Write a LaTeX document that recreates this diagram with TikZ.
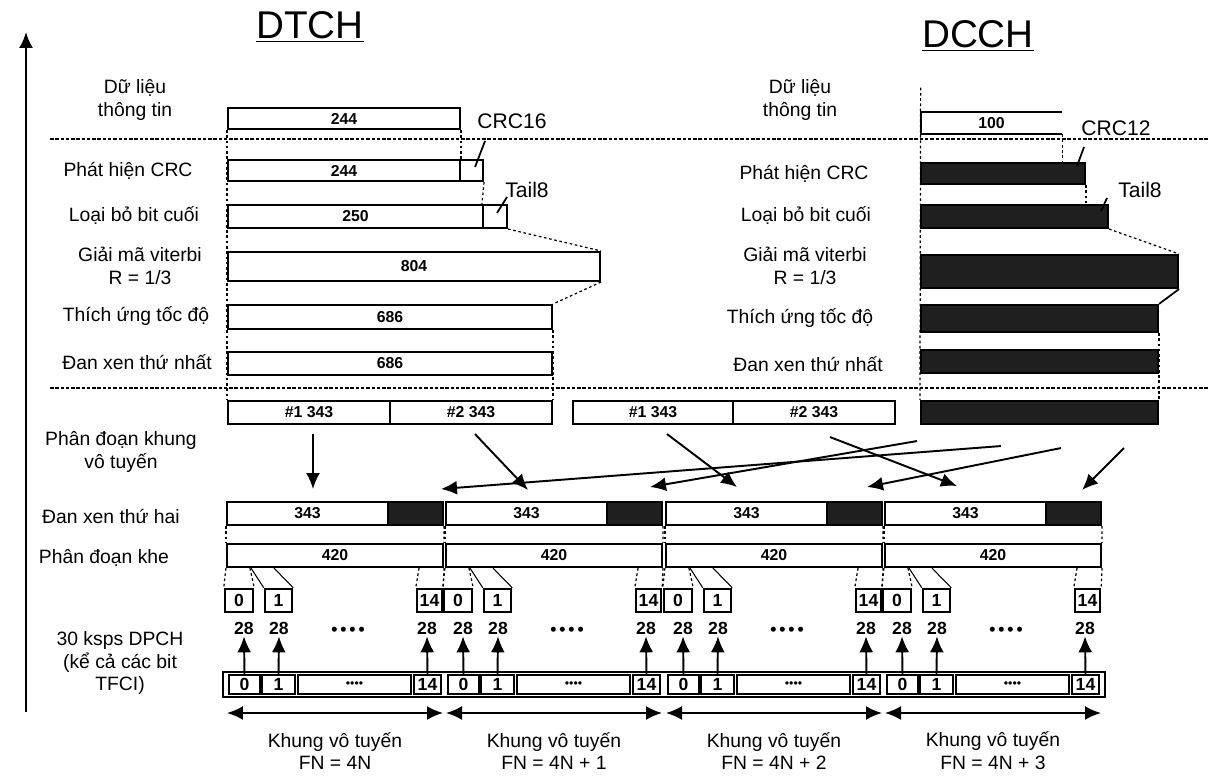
\documentclass[tikz,border=0pt]{standalone}
\usepackage{fontspec}
\setmainfont{Liberation Sans}
\usetikzlibrary{arrows.meta,positioning,fit,calc,backgrounds}

\begin{document}
\begin{tikzpicture}[
  x=0.02cm, y=-0.02cm,
  font=\fontsize{11}{13}\selectfont,
  >={Latex[length=3.2mm,width=2.8mm]},
  cell/.style={rectangle, draw=black, line width=1.2pt, fill=white, inner sep=0pt},
  dark/.style={cell, fill=black!88},
  slotbox/.style={cell, line width=1.4pt},
  bcell/.style={cell, line width=0.8pt},
  ctxt/.style={font=\fontsize{9}{10}\selectfont\bfseries, inner sep=0pt},
  stxt/.style={font=\fontsize{10}{11}\selectfont\bfseries, inner sep=0pt},
  num/.style={font=\fontsize{10}{11}\selectfont\bfseries, inner sep=1pt},
  lbl/.style={align=center},
  head/.style={font=\fontsize{22}{24}\selectfont},
  guide/.style={dash pattern=on 1.5pt off 1.5pt, line width=0.7pt},
  sep/.style={dash pattern=on 2pt off 1pt, line width=0.9pt},
  ar/.style={->, line width=1.1pt},
  dar/.style={<->, line width=1.2pt},
]
\useasboundingbox (0,0) rectangle (1208,780);

% ---------- titles ----------
\node[head] (tdtch) at (310,27) {\underline{DTCH}};
\node[head] (tdcch) at (978,36) {\underline{DCCH}};

% ---------- time axis ----------
\coordinate (ax0) at (26,712);
\coordinate (ax1) at (26,32);
\draw[ar, line width=1.3pt] (ax0) -- (ax1);

% ---------- separators ----------
\coordinate (sa0) at (50,139);  \coordinate (sa1) at (1208,139);
\coordinate (sb0) at (50,388);  \coordinate (sb1) at (1208,388);
\draw[sep] (sa0) -- (sa1);
\draw[sep] (sb0) -- (sb1);

% ---------- left labels ----------
\node[lbl] (l1) at (135,100) {Dữ liệu\\thông tin};
\node[lbl] (l2) at (128,171) {Phát hiện CRC};
\node[lbl] (l3) at (134,216) {Loại bỏ bit cuối};
\node[lbl] (l4) at (140,266) {Giải mã viterbi\\R = 1/3};
\node[lbl] (l5) at (136,316) {Thích ứng tốc độ};
\node[lbl] (l6) at (137,362) {Đan xen thứ nhất};
\node[lbl] (l7) at (121,452) {Phân đoạn khung\\vô tuyến};
\node[lbl] (l8) at (111,516) {Đan xen thứ hai};
\node[lbl] (l9) at (104,558) {Phân đoạn khe};
\node[lbl] (l10) at (120,663) {30 ksps DPCH\\(kể cả các bit\\TFCI)};

% ---------- DTCH chain ----------
\node[cell, fit={(228,108)(460,129)}, label={[ctxt]center:244}] (d1) {};
\node[lbl, font=\fontsize{12}{14}\selectfont] (crc16) at (512,121) {CRC16};
\node[cell, fit={(228,160)(460,181)}, label={[ctxt]center:244}] (d2) {};
\node[cell, fit={(460,160)(483,181)}] (d2c) {};
\node[lbl, font=\fontsize{12}{14}\selectfont] (tail1) at (527,190) {Tail8};
\node[cell, fit={(228,205)(483,228)}, label={[ctxt]center:250}] (d3) {};
\node[cell, fit={(483,205)(507,228)}] (d3c) {};
\node[cell, fit={(228,252)(600,281)}, label={[ctxt]center:804}] (d4) {};
\node[cell, fit={(228,305)(552,329)}, label={[ctxt]center:686}] (d5) {};
\node[cell, fit={(228,352)(552,375)}, label={[ctxt]center:686}] (d6) {};
\node[cell, fit={(228,401)(390,424)}, label={[ctxt]center:\#1 343}] (t1) {};
\node[cell, fit={(390,401)(552,424)}, label={[ctxt]center:\#2 343}] (t2) {};
\node[cell, fit={(573,401)(733,424)}, label={[ctxt]center:\#1 343}] (u1) {};
\node[cell, fit={(733,401)(895,424)}, label={[ctxt]center:\#2 343}] (u2) {};

% ---------- DCCH chain ----------
\node[lbl] (r1) at (800,100) {Dữ liệu\\thông tin};
\node[lbl] (r2) at (804,174) {Phát hiện CRC};
\node[lbl] (r3) at (806,216) {Loại bỏ bit cuối};
\node[lbl] (r4) at (805,266) {Giải mã viterbi\\R = 1/3};
\node[lbl] (r5) at (800,318) {Thích ứng tốc độ};
\node[lbl] (r6) at (808,364) {Đan xen thứ nhất};

\node[inner sep=0pt, fit={(921,112)(1062,134)}, label={[ctxt]center:100}] (c1) {};
\draw[line width=1.2pt] (c1.north east) -- (c1.north west) -- (c1.south west) -- (c1.south east);
\node[lbl, font=\fontsize{12}{14}\selectfont] (crc12) at (1116,128) {CRC12};
\node[dark, fit={(921,163)(1085,184)}] (c2) {};
\node[lbl, font=\fontsize{12}{14}\selectfont] (tail2) at (1140,190) {Tail8};
\node[dark, fit={(921,205)(1108,228)}] (c3) {};
\node[dark, fit={(921,255)(1178,288)}] (c4) {};
\node[dark, fit={(921,305)(1158,332)}] (c5) {};
\node[dark, fit={(921,350)(1158,373)}] (c6) {};
\node[dark, fit={(921,401)(1158,424)}] (c7) {};

% ---------- guide lines behind the blocks ----------
\begin{scope}[on background layer]
  \draw[guide] (d1.south west) -- (t1.north west);
  \draw[guide] (d1.south east) -- (d2.north east);
  \draw[guide] (d2c.south east) -- (d3c.north west);
  \draw[guide] (d5.south east) -- (t2.north east);
  \draw[guide] ($(c1.north west)+(0,-24)$) -- (c7.north west);
  \draw[guide] (c1.south east) -- (c1.south east |- c2.north);
  \draw[guide] (c2.south east) -- (c2.south east |- c3.north);
  \draw[guide] (c5.south east) -- (c7.north east);
\end{scope}
\draw[guide] (d3c.south east) -- (d4.north east);
\draw[guide] (d4.south east) -- (d5.north east);
\draw[guide] (c3.south east) -- (c4.north east);
\draw[line width=1pt] (c4.south east) -- (c5.north east);

% CRC / tail pointers
\draw[line width=1pt] ($(d2c.north east)+(1,-18)$) -- ($(d2c.north east)+(-9,8)$);
\draw[line width=1pt] ($(d3c.north east)+(-1,-7)$) -- ($(d3c.north east)+(-11,9)$);
\draw[line width=1pt] ($(c2.north east)+(-2,-15)$) -- ($(c2.north east)+(-9,4)$);
\draw[line width=1pt] ($(c3.north east)+(-2,-6)$) -- ($(c3.north east)+(-8,7)$);

% ---------- radio frames ----------
\node[draw, line width=1.5pt, inner sep=0pt, fit={(223,672)(1105,697)}] (dpch) {};

\foreach \i/\F/\fn in {1/227/{4N}, 2/446/{4N + 1}, 3/666/{4N + 2}, 4/885/{4N + 3}} {
  % second interleaving + slot segmentation
  \node[cell, fit={(\F,502)(\F+161,525)}, label={[ctxt]center:343}] (p\i) {};
  \node[dark, fit={(\F+161,502)(\F+216,525)}] (q\i) {};
  \node[cell, fit={(\F,544)(\F+216,567)}, label={[ctxt]center:420}] (s\i) {};
  \draw[guide] (p\i.south west) -- (s\i.north west);
  \draw[guide] (q\i.south east) -- (s\i.north east);

  % slots 0, 1, 14
  \node[slotbox, fit={(\F-2,589)(\F+26,612)}, label={[stxt]center:0}] (sa\i) {};
  \node[slotbox, fit={(\F+38,589)(\F+65,612)}, label={[stxt]center:1}] (sb\i) {};
  \node[slotbox, fit={(\F+190,589)(\F+215,612)}, label={[stxt]center:14}] (sc\i) {};
  \draw[guide] (s\i.south west) -- (sa\i.north west);
  \draw[guide] ($(s\i.south west)+(24,0)$) -- (sa\i.north east);
  \draw[line width=0.6pt] ($(s\i.south west)+(25,0)$) -- (sb\i.north west);
  \draw[line width=0.6pt] ($(s\i.south west)+(48,0)$) -- (sb\i.north east);
  \draw[guide] ($(s\i.south east)+(-25,0)$) -- (sc\i.north west);
  \draw[guide] (s\i.south east) -- (sc\i.north east);

  % DPCH slots
  \node[bcell, fit={(\F+2,675)(\F+33,694)}, label={[stxt]center:0}] (ba\i) {};
  \node[bcell, fit={(\F+35,675)(\F+68,694)}, label={[stxt]center:1}] (bb\i) {};
  \node[bcell, fit={(\F+71,675)(\F+184,694)}, label={[ctxt, font=\fontsize{7}{8}\selectfont]center:••••}] (bd\i) {};
  \node[bcell, fit={(\F+187,675)(\F+214,694)}, label={[stxt]center:14}] (bc\i) {};
  \node[num] (na\i) at (\F+17,628) {28};
  \node[num] (nb\i) at (\F+52,628) {28};
  \node[num] (nc\i) at (\F+200,628) {28};
  \node[num] (nd\i) at (\F+121,631) {•\,•\,•\,•};
  \draw[ar] (ba\i.north) -- (na\i.south);
  \draw[ar] (bb\i.north) -- (nb\i.south);
  \draw[ar] (bc\i.north) -- (nc\i.south);

  % frame extent
  \coordinate (fl\i) at (\F,713);
  \coordinate (fr\i) at (\F+216,713);
  \draw[dar] (fl\i) -- (fr\i);
  \node[lbl] (fn\i) at (\F+108,751) {Khung vô tuyến\\FN = \fn};
}

% ---------- mapping of segments onto frames ----------
\coordinate (h1) at (313,489);
\coordinate (h2) at (528,490);
\coordinate (h3) at (737,487);
\coordinate (h4) at (957,486);
\coordinate (k1) at (441,489);
\coordinate (k2) at (650,487);
\coordinate (k3) at (867,487);
\coordinate (k4) at (1082,490);

\draw[ar] ($(t1.south)+(4,9)$) -- (h1);
\draw[ar] ($(t2.south)+(4,9)$) -- (h2);
\draw[ar] ($(u1.south)+(14,9)$) -- (h3);
\draw[ar] ($(u2.south)+(16,12)$) -- (h4);
\draw[ar] ($(c7.south west)+(81,21)$) -- (k1);
\draw[ar] ($(c7.south west)+(-3,16)$) -- (k2);
\draw[ar] ($(c7.south west)+(141,23)$) -- (k3);
\draw[ar] ($(c7.south west)+(204,23)$) -- (k4);

\end{tikzpicture}
\end{document}
